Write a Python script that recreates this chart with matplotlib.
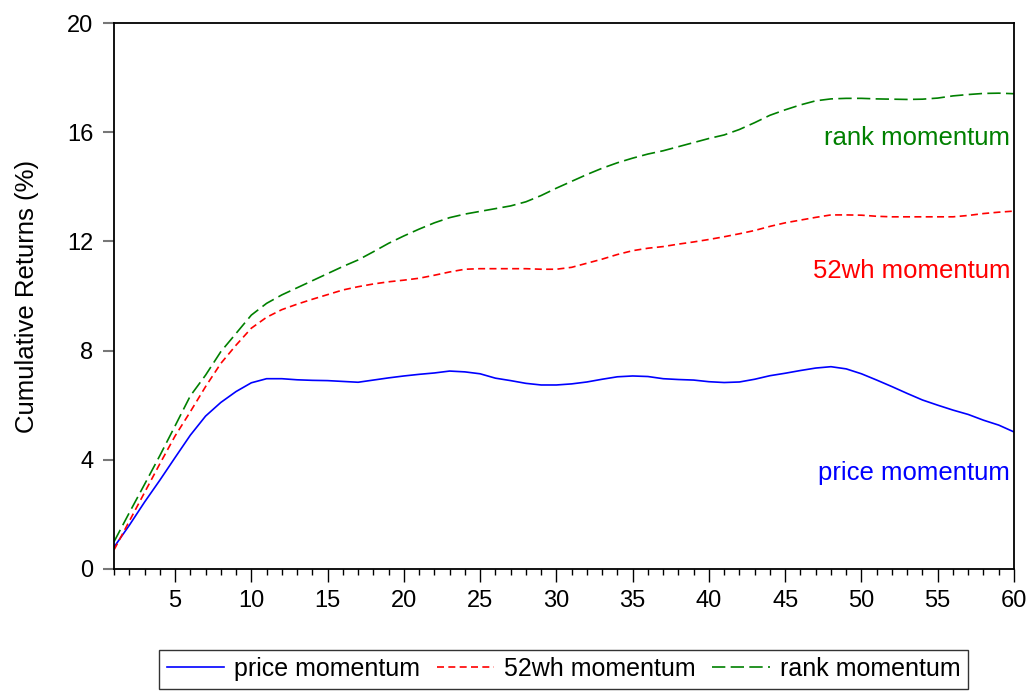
import numpy as np
import matplotlib
matplotlib.use("Agg")
import matplotlib.pyplot as plt
from matplotlib.ticker import MultipleLocator

plt.rcParams["font.family"] = ["Liberation Sans", "DejaVu Sans"]

# months after formation
months = list(range(1, 61))

price_mom = [0.8, 1.6, 2.45, 3.25, 4.08, 4.9, 5.6, 6.1, 6.5, 6.82,
             6.97, 6.97, 6.93, 6.91, 6.9, 6.87, 6.84, 6.92, 7.0, 7.07,
             7.13, 7.18, 7.25, 7.22, 7.15, 6.99, 6.9, 6.8, 6.74, 6.74,
             6.78, 6.85, 6.95, 7.04, 7.07, 7.05, 6.97, 6.94, 6.92, 6.86,
             6.83, 6.85, 6.95, 7.08, 7.17, 7.27, 7.36, 7.41, 7.33, 7.15,
             6.92, 6.68, 6.43, 6.19, 6.0, 5.82, 5.66, 5.45, 5.27, 5.02]

wh52_mom = [0.7, 1.75, 2.8, 3.85, 4.87, 5.76, 6.68, 7.53, 8.2, 8.82,
            9.22, 9.5, 9.7, 9.88, 10.05, 10.22, 10.34, 10.44, 10.52, 10.58,
            10.65, 10.76, 10.88, 10.98, 11.0, 11.0, 11.0, 11.0, 10.98, 10.98,
            11.05, 11.2, 11.35, 11.52, 11.66, 11.75, 11.81, 11.9, 11.98, 12.07,
            12.17, 12.28, 12.4, 12.55, 12.68, 12.78, 12.88, 12.97, 12.97, 12.96,
            12.92, 12.9, 12.9, 12.9, 12.9, 12.9, 12.95, 13.02, 13.07, 13.11]

rank_mom = [1.0, 2.06, 3.1, 4.15, 5.24, 6.34, 7.1, 7.96, 8.63, 9.3,
            9.73, 10.04, 10.3, 10.56, 10.82, 11.08, 11.32, 11.62, 11.93, 12.2,
            12.45, 12.68, 12.87, 13.0, 13.1, 13.2, 13.3, 13.45, 13.68, 13.95,
            14.2, 14.45, 14.68, 14.88, 15.05, 15.2, 15.32, 15.47, 15.62, 15.77,
            15.9, 16.1, 16.35, 16.62, 16.82, 17.0, 17.15, 17.22, 17.24, 17.24,
            17.22, 17.21, 17.2, 17.21, 17.25, 17.33, 17.38, 17.42, 17.43, 17.41]

labels = ["price momentum", "52wh momentum", "rank momentum"]
colors = ["#0000FF", "#FF0000", "#008000"]
label_y = [3.5, 10.9, 15.8]

fig = plt.figure(figsize=(10.33, 6.91), dpi=100)
ax = fig.add_axes([0.1104, 0.1766, 0.8712, 0.7901])

ax.plot(months, price_mom, color=colors[0], lw=1.2, label=labels[0])
ax.plot(months, wh52_mom, color=colors[1], lw=1.2, dashes=(4.2, 2.6), label=labels[1])
ax.plot(months, rank_mom, color=colors[2], lw=1.2, dashes=(8, 3.2), label=labels[2])

for txt, c, yy in zip(labels, colors, label_y):
    ax.text(59.75, yy, txt, color=c, ha="right", va="center", fontsize=18.5)

ax.set_xlim(1, 60)
ax.set_ylim(0, 20)
ax.set_xticks(range(5, 61, 5))
ax.xaxis.set_minor_locator(MultipleLocator(1))
ax.set_yticks(range(0, 21, 4))
ax.tick_params(axis="x", which="major", direction="out", length=9, width=1, labelsize=17, pad=6)
ax.tick_params(axis="x", which="minor", direction="out", length=4.5, width=1)
ax.tick_params(axis="y", direction="out", length=8, width=1.5, color="#777777", labelsize=17, pad=7)
for s in ax.spines.values():
    s.set_linewidth(1.3)

ax.set_ylabel("Cumulative Returns (%)", fontsize=18.5, labelpad=20)

leg = fig.legend(loc="center", bbox_to_anchor=(0.5455, 0.0315), ncol=3, fontsize=18,
                 frameon=True, fancybox=False, handlelength=2.3, handletextpad=0.4,
                 columnspacing=0.65, borderpad=0.3)
leg.get_frame().set_edgecolor("black")
leg.get_frame().set_linewidth(1.0)

fig.savefig("out.png", dpi=100)
